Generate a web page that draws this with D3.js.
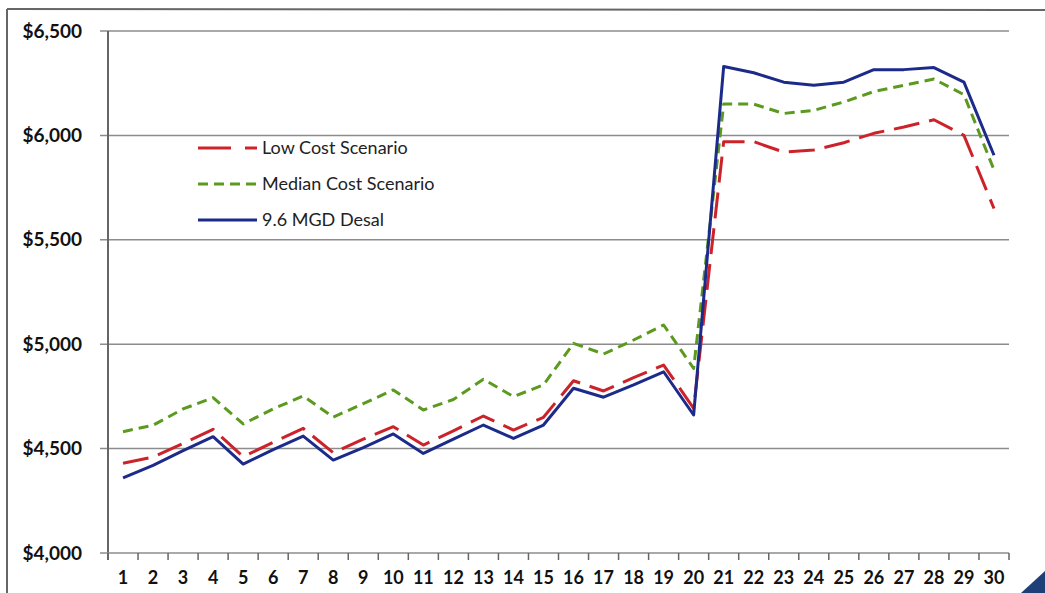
<!DOCTYPE html>
<html>
<head>
<meta charset="utf-8">
<script src="https://cdn.jsdelivr.net/npm/d3@7"></script>
<style>
  html, body { margin: 0; padding: 0; background: #ffffff; }
  svg { display: block; }
</style>
</head>
<body>
<svg id="chart" width="1045" height="593"></svg>
<script>
// ---- data ----
const periods = d3.range(1, 31);
const lowCost = [4430, 4460, 4525, 4592, 4461, 4530, 4597, 4480, 4545, 4605,
                 4517, 4585, 4656, 4589, 4650, 4825, 4776, 4840, 4900, 4693,
                 5970, 5970, 5920, 5930, 5965, 6010, 6040, 6075, 6000, 5650];
const medianCost = [4581, 4612, 4690, 4744, 4618, 4690, 4752, 4651, 4715, 4781,
                    4685, 4735, 4832, 4749, 4805, 5004, 4953, 5020, 5092, 4884,
                    6150, 6150, 6105, 6120, 6160, 6210, 6240, 6270, 6195, 5835];
const desal = [4360, 4420, 4490, 4557, 4426, 4495, 4560, 4445, 4505, 4570,
               4477, 4545, 4613, 4549, 4613, 4789, 4746, 4805, 4868, 4661,
               6330, 6300, 6255, 6240, 6255, 6315, 6315, 6325, 6255, 5905];
const yTicks = [4000, 4500, 5000, 5500, 6000, 6500];
const seriesNames = ["Low Cost Scenario", "Median Cost Scenario", "9.6 MGD Desal"];

const series = [
  { name: seriesNames[0], values: lowCost,    color: "#cc2229", dash: "26,10", width: 3 },
  { name: seriesNames[1], values: medianCost, color: "#5b9a1f", dash: "10,6",  width: 3 },
  { name: seriesNames[2], values: desal,      color: "#1c2b8a", dash: null,    width: 3 }
];

const svg = d3.select("#chart");

// slide frame
svg.append("line").attr("x1", 7).attr("x2", 1045).attr("y1", 9).attr("y2", 10)
  .attr("stroke", "#666").attr("stroke-width", 2);
svg.append("line").attr("x1", 7).attr("x2", 7).attr("y1", 9).attr("y2", 593)
  .attr("stroke", "#666").attr("stroke-width", 2);
// corner decoration
svg.append("path").attr("d", "M1021,593 L1045,571 L1045,593 Z").attr("fill", "#1f3f78");

const pLeft = 108, pRight = 1009, pTop = 31, pBottom = 553;

const x = d3.scaleBand().domain(periods).range([pLeft, pRight]).padding(0);
const y = d3.scaleLinear().domain([4000, 6500]).range([pBottom, pTop]);
const cx = d => x(d) + x.bandwidth() / 2;

// gridlines
svg.append("g").selectAll("line").data(yTicks.filter(t => t !== 4000)).join("line")
  .attr("x1", pLeft - 8).attr("x2", pRight)
  .attr("y1", d => y(d)).attr("y2", d => y(d))
  .attr("stroke", "#8c8c8c").attr("stroke-width", 1.5);

// y axis
const yAxis = svg.append("g").attr("transform", `translate(${pLeft},0)`)
  .call(d3.axisLeft(y).tickValues(yTicks).tickSize(0).tickPadding(26)
    .tickFormat(d => "$" + d3.format(",")(d)));
yAxis.select(".domain").remove();
yAxis.selectAll("text")
  .attr("font-family", "Lato, 'Open Sans', sans-serif")
  .attr("font-weight", "bold").attr("font-size", 19).attr("fill", "#111");
svg.append("line").attr("x1", pLeft).attr("x2", pLeft).attr("y1", pTop).attr("y2", pBottom + 7)
  .attr("stroke", "#666").attr("stroke-width", 2);

// x axis
const xAxis = svg.append("g").attr("transform", `translate(0,${pBottom})`)
  .call(d3.axisBottom(x).tickSize(0).tickPadding(18));
xAxis.select(".domain").remove();
xAxis.selectAll("text")
  .attr("font-family", "Lato, 'Open Sans', sans-serif")
  .attr("font-weight", "bold").attr("font-size", 18).attr("fill", "#111");
svg.append("line").attr("x1", pLeft - 8).attr("x2", pRight).attr("y1", pBottom).attr("y2", pBottom)
  .attr("stroke", "#8c8c8c").attr("stroke-width", 1.5);
const boundaries = periods.map(p => x(p)).concat([x(periods[periods.length - 1]) + x.bandwidth()]);
svg.append("g").selectAll("line").data(boundaries).join("line")
  .attr("x1", d => d).attr("x2", d => d).attr("y1", pBottom).attr("y2", pBottom + 7)
  .attr("stroke", "#666").attr("stroke-width", 1.5);

// lines
const line = d3.line().x((d, i) => cx(periods[i])).y(d => y(d));
series.forEach(s => {
  svg.append("path").datum(s.values)
    .attr("d", line)
    .attr("fill", "none")
    .attr("stroke", s.color)
    .attr("stroke-width", s.width)
    .attr("stroke-linejoin", "round")
    .attr("stroke-dasharray", s.dash);
});

// legend
const lg = svg.append("g");
series.forEach((s, i) => {
  const yy = 148 + i * 36;
  lg.append("line").attr("x1", 198).attr("x2", 257).attr("y1", yy).attr("y2", yy)
    .attr("stroke", s.color).attr("stroke-width", 3)
    .attr("stroke-dasharray", i === 0 ? "33,14" : s.dash);
  lg.append("text").attr("x", 262).attr("y", yy).attr("dy", "0.35em")
    .attr("font-family", "Lato, 'Open Sans', sans-serif")
    .attr("font-size", 18).attr("fill", "#222").text(s.name);
});
</script>
</body>
</html>
